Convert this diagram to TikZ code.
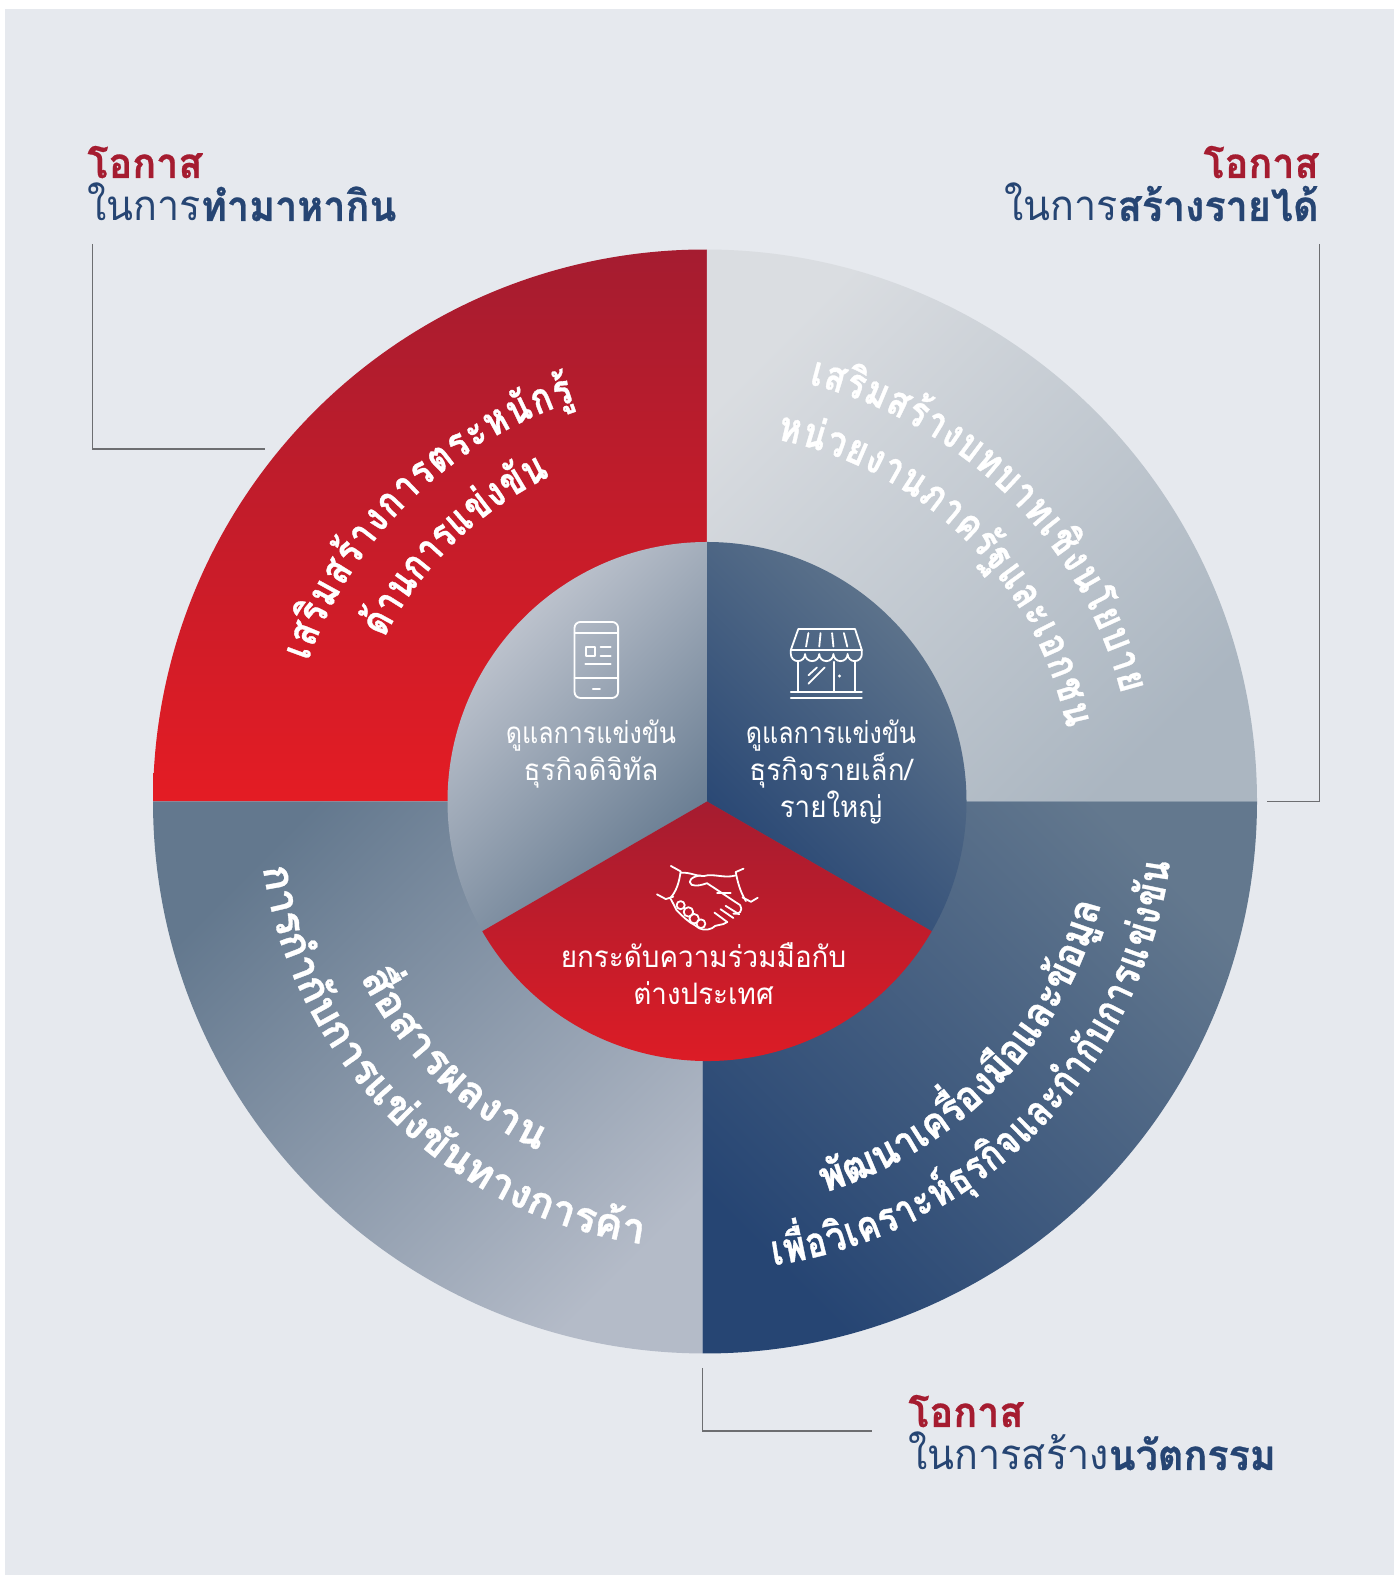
\documentclass[tikz,border=0pt]{standalone}
\usepackage{fontspec}
\usetikzlibrary{decorations.text}
\newfontfamily\thaifont[Script=Thai,FakeStretch=.94,BoldFeatures={FakeBold=.6}]{Loma}
\newfontfamily\bandthai[Script=Thai,FakeStretch=.9,BoldFeatures={FakeBold=.8}]{Loma}
\newfontfamily\tightthai[Script=Thai,FakeStretch=.8,BoldFeatures={FakeBold=.8}]{Loma}
\newfontfamily\widethai[Script=Thai,FakeStretch=1,BoldFeatures={FakeBold=.8}]{Loma}
\newcommand{\bandfont}{\bandthai\bfseries\fontsize{21}{24}\selectfont}
\newcommand{\bandtight}{\tightthai\bfseries\fontsize{21}{24}\selectfont}
\newcommand{\bandwide}{\widethai\bfseries\fontsize{21}{24}\selectfont}
\definecolor{pagebg}{HTML}{E6E9EE}
\definecolor{oppred}{HTML}{A51C30}
\definecolor{midred}{HTML}{A51C30}
\definecolor{brightred}{HTML}{E41C24}
\definecolor{oppblue}{HTML}{264573}
\definecolor{midblue}{HTML}{334F7A}
\definecolor{slate}{HTML}{63788E}
\definecolor{midslate}{HTML}{66798F}
\definecolor{palegrey}{HTML}{DADDE1}
\definecolor{midgrey}{HTML}{CDD1D7}
\definecolor{steelgrey}{HTML}{ABB6C1}
\definecolor{lightgrey}{HTML}{C8CCD5}
\definecolor{fadegrey}{HTML}{B4BBC8}
\definecolor{leader}{HTML}{6D6E71}
\tikzset{
  leaderline/.style={draw=leader,line width=.65pt},
  bandtext/.style={decorate,decoration={text along path,text color=white,text align=fit to path}},
  hubtext/.style={text=white,align=center,font=\thaifont\fontsize{14.8}{18.5}\selectfont},
  headtext/.style={text=oppred,inner sep=0pt,font=\thaifont\bfseries\fontsize{21}{24}\selectfont},
  subtext/.style={text=oppblue,inner sep=0pt,font=\thaifont\fontsize{21}{24}\selectfont},
  icon/.style={draw=white,line width=.9pt,line cap=round,line join=round}
}
\begin{document}
\begin{tikzpicture}[x=.5pt,y=.5pt]
	\useasboundingbox (0,0) rectangle (1394,1575);
	\fill[pagebg] (5,0) rectangle (1394,1566);
	\coordinate (hub) at (705,773.5);
	\coordinate (seamtop) at (707,773.5);
	\coordinate (seambot) at (702.5,773.5);

	% outer ring
	\shade[top color=oppred,bottom color=brightred] (hub) ++(180:552) arc (180:89.8:552) -- (seamtop) -- cycle;
	\shade[top color=palegrey,middle color=midgrey,bottom color=steelgrey,shading angle=45] (hub) ++(89.8:552) arc (89.8:0:552) -- (seamtop) -- cycle;
	\shade[top color=slate,middle color=midslate,bottom color=fadegrey,shading angle=45] (hub) ++(180:552) arc (180:269.75:552) -- (seambot) -- cycle;
	\shade[top color=slate,middle color=midblue,bottom color=oppblue,shading angle=-45] (hub) ++(269.75:552) arc (269.75:360:552) -- (seambot) -- cycle;

	% inner disc
	\shade[top color=lightgrey,middle color=slate,bottom color=slate,shading angle=45] (seamtop) -- ++(90:259.5) arc (90:210:259.5) -- cycle;
	\shade[top color=slate,middle color=midblue,bottom color=oppblue,shading angle=-45] (seamtop) -- ++(90:259.5) arc (90:-30:259.5) -- cycle;
	\shade[top color=oppred,middle color=midred,bottom color=brightred] (seamtop) -- ++(210:259.5) arc (210:330:259.5) -- cycle;

	% band labels
	\path[bandtext,decoration={text={|\bandtight|เส{ริ}มส{ร้}างการตระห{นั}ก{รู้}}}] (hub) ++(160.5:421) arc (160.5:108:421);
	\path[bandtext,decoration={text={|\bandtight|{ด้}านการแ{ข่}ง{ขั}น}}] (hub) ++(153:360) arc (153:115.5:360);
	\path[bandtext,decoration={text={|\bandtight|เส{ริ}มส{ร้}างบทบาทเ{ชิ}งนโยบาย}}] (hub) ++(76:430) arc (76:14.5:430);
	\path[bandtext,decoration={text={|\bandtight|ห{น่}วยงานภาค{รั}ฐและเอกชน}}] (hub) ++(78.8:369) arc (78.8:11.5:369);
	\path[bandtext,decoration={text={|\bandwide|{สื่}อสารผลงาน}}] (hub) ++(207:387) arc (207:244.5:387);
	\path[bandtext,decoration={text={|\bandwide|การ{กำ}{กั}บการแ{ข่}ง{ขั}นทางการ{ค้}า}}] (hub) ++(188.5:447) arc (188.5:262:447);
	\path[bandtext,decoration={text={|\bandfont|{พั}ฒนาเค{รื่}อง{มื}อและ{ข้}อ{มู}ล}}] (hub) ++(287:409) arc (287:344:409);
	\path[bandtext,decoration={text={|\bandtight|เ{พื่}อ{วิ}เคราะ{ห์}{ธุ}ร{กิ}จและ{กำ}{กั}บการแ{ข่}ง{ขั}น}}] (hub) ++(278.4:469) arc (278.4:352.5:469);

	% hub labels
	\node[hubtext] (digital) at (591,821) {\scalebox{.9}[1]{ดูแลการแข่งขัน}\\ธุรกิจดิจิทัล};
	\node[hubtext] (retail) at (831,803) {\scalebox{.9}[1]{ดูแลการแข่งขัน}\\ธุรกิจรายเล็ก/\\รายใหญ่};
	\node[hubtext] (global) at (703.5,601) {ยกระดับความร่วมมือกับ\\ต่างประเทศ};

	% icons, in units of the hub crop
	\begin{scope}[shift={(440,1045)},scale=.338,yscale=-1]
		\draw[icon,rounded corners=3pt] (398,272) rectangle (527,497);
		\draw[icon] (398,305) -- (527,305) (398,437) -- (527,437);
		\draw[icon] (432,347) rectangle (458,373);
		\draw[icon] (475,347) -- (505,347) (475,372) -- (505,372) (430,397) -- (505,397) (452,470) -- (473,470);

		\draw[icon] (1060,293) -- (1228,293) -- (1248,355) -- (1038,355) -- cycle;
		\draw[icon] (1038,355) -- (1038,367) arc (180:0:21) arc (180:0:21) arc (180:0:21) arc (180:0:21) arc (180:0:21) -- (1248,355);
		\draw[icon] (1090,305) -- (1083,345) (1126,305) -- (1122,345) (1160,305) -- (1164,345) (1195,305) -- (1205,345);
		\draw[icon] (1060,388) -- (1060,480) (1228,388) -- (1228,480) (1165,390) -- (1165,480);
		\draw[icon] (1038,480) -- (1248,480) (1038,497) -- (1248,497);
		\draw[icon] (1090,455) -- (1138,407) (1090,430) -- (1115,407);
		\fill[white] (1182,432) circle (5);

		\draw[icon] (683,994) -- (712,1010) .. controls (708,1040) and (700,1070) .. (680,1090);
		\draw[icon] (642,1078) -- (668,1092) -- (690,1085);
		\draw[icon] (898,1002) -- (875,1012) .. controls (880,1040) and (888,1070) .. (905,1098);
		\draw[icon] (940,1088) -- (920,1100) -- (895,1087);
		\draw[icon] (712,1014) .. controls (740,1012) and (760,1025) .. (780,1024) .. controls (810,1015) and (840,1032) .. (875,1022);
		\draw[icon] (770,1022) .. controls (745,1025) and (730,1040) .. (745,1050) .. controls (760,1055) and (775,1050) .. (790,1045) -- (888,1110) .. controls (898,1125) and (885,1140) .. (868,1135);
		\draw[icon] (820,1075) -- (860,1075);
		\draw[icon] (812,1132) -- (850,1160) (830,1122) -- (868,1148) (845,1112) -- (885,1137);
		\draw[icon] (850,1160) .. controls (835,1172) and (815,1165) .. (805,1178) .. controls (790,1185) and (770,1185) .. (755,1170) .. controls (735,1160) and (720,1145) .. (700,1125) -- (683,1092);
		\draw[icon] (712,1110) circle (12) (735,1130) circle (14) (752,1150) circle (14) (772,1165) circle (13);
	\end{scope}

	% outer labels
	\node[headtext,anchor=base west] (headleft) at (87,1397) {โอกาส};
	\node[subtext,anchor=base west] (subleft) at (87,1354) {ในการ\textbf{ทำมาหากิน}};
	\node[headtext,anchor=base east] (headright) at (1319,1397) {โอกาส};
	\node[subtext,anchor=base east] (subright) at (1319,1354) {ในการ\textbf{สร้างรายได้}};
	\node[headtext,anchor=base west] (headbottom) at (908,148) {โอกาส};
	\node[subtext,anchor=base west] (subbottom) at (908,105) {ในการสร้าง\textbf{นวัตกรรม}};

	% leaders
	\coordinate (lefttop) at (92.4,1331);
	\coordinate (leftend) at (265,1126);
	\coordinate (righttop) at (1319.5,1331);
	\coordinate (rightend) at (1267,773.5);
	\coordinate (bottomtop) at (702.5,207);
	\coordinate (bottomend) at (872,144);
	\draw[leaderline] (lefttop) |- (leftend);
	\draw[leaderline] (righttop) |- (rightend);
	\draw[leaderline] (bottomtop) |- (bottomend);
\end{tikzpicture}
\end{document}
